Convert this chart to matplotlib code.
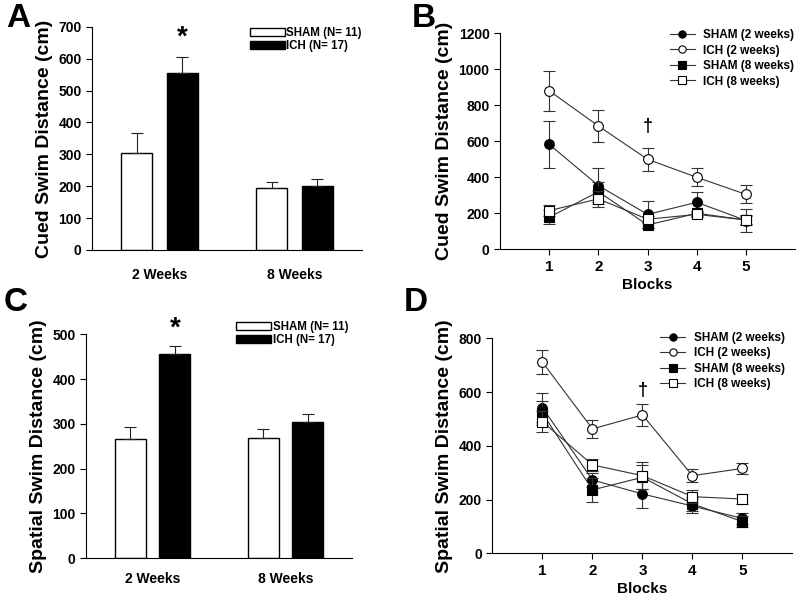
import numpy as np
import matplotlib
matplotlib.use('Agg')
from matplotlib import pyplot as plt

plt.rcParams['font.family'] = ['Liberation Sans', 'DejaVu Sans']
plt.rcParams['font.weight'] = 'bold'

# ---------------- data ----------------
groups = ['2 Weeks', '8 Weeks']
bar_legend = ['SHAM (N= 11)', 'ICH (N= 17)']

cued_sham = [305, 194]
cued_sham_err = [63, 20]
cued_ich = [555, 202]
cued_ich_err = [50, 20]

spatial_sham = [266, 268]
spatial_sham_err = [26, 20]
spatial_ich = [456, 304]
spatial_ich_err = [19, 18]

blocks = [1, 2, 3, 4, 5]
line_legend = ['SHAM (2 weeks)', 'ICH (2 weeks)', 'SHAM (8 weeks)', 'ICH (8 weeks)']

cued_sham2 = [583, 354, 194, 261, 160]
cued_sham2_err = [132, 100, 75, 57, 62]
cued_ich2 = [881, 685, 500, 400, 305]
cued_ich2_err = [110, 90, 65, 50, 50]
cued_sham8 = [178, 320, 135, 200, 163]
cued_sham8_err = [40, 55, 15, 15, 20]
cued_ich8 = [215, 280, 167, 194, 163]
cued_ich8_err = [30, 45, 20, 15, 30]

spatial_sham2 = [542, 273, 221, 176, 130]
spatial_sham2_err = [55, 25, 54, 25, 20]
spatial_ich2 = [711, 463, 515, 289, 316]
spatial_ich2_err = [45, 33, 40, 25, 20]
spatial_sham8 = [521, 236, 283, 184, 118]
spatial_sham8_err = [45, 44, 45, 25, 20]
spatial_ich8 = [490, 329, 289, 211, 202]
spatial_ich8_err = [40, 22, 50, 25, 17]

fig = plt.figure(figsize=(8, 5.95), dpi=100)


def style_axes(ax):
    ax.spines['top'].set_visible(False)
    ax.spines['right'].set_visible(False)
    ax.spines['left'].set_linewidth(0.8)
    ax.spines['bottom'].set_linewidth(0.8)
    ax.tick_params(axis='y', direction='out', length=4, width=0.8, labelsize=10)
    for lab in ax.get_yticklabels() + ax.get_xticklabels():
        lab.set_fontweight('bold')


# Bar panels (A and C)
def bar_panel(rect, sham, sham_err, ich, ich_err, ymax, ystep, ylabel, star_y, xpad, leg_anchor):
    ax = fig.add_axes(rect)
    x = np.arange(len(groups))
    off, w = 0.168, 0.232
    ax.bar(x - off, sham, w, color='white', edgecolor='black', linewidth=1,
           yerr=[np.zeros(len(sham)), sham_err], capsize=4,
           error_kw=dict(elinewidth=0.8, capthick=0.8, ecolor='#222222'), label=bar_legend[0])
    ax.bar(x + off, ich, w, color='black', edgecolor='black', linewidth=1,
           yerr=[np.zeros(len(ich)), ich_err], capsize=4,
           error_kw=dict(elinewidth=0.8, capthick=0.8, ecolor='#222222'), label=bar_legend[1])
    ax.set_xlim(-0.5, 1.5)
    ax.set_ylim(0, ymax)
    ax.set_yticks(np.arange(0, ymax + 1, ystep))
    ax.set_xticks(x)
    ax.set_xticklabels(groups, fontsize=10, fontweight='bold')
    ax.tick_params(axis='x', length=0, pad=xpad)
    ax.set_ylabel(ylabel, fontsize=14, fontweight='bold', labelpad=4)
    ax.text(x[0] + off, star_y, '*', ha='center', va='center', fontsize=20, fontweight='bold')
    style_axes(ax)
    ax.legend(loc='upper left', bbox_to_anchor=leg_anchor, frameon=False,
              handlelength=3.0, handleheight=0.7, handletextpad=0.15,
              labelspacing=0.08, borderaxespad=0, borderpad=0,
              prop=dict(family=['Liberation Sans Narrow', 'Liberation Sans'],
                        weight='bold', size=8.3))
    return ax


# Line panels (B and D)
def line_panel(rect, series, ymax, ystep, ylabel, dagger_y, leg_anchor):
    ax = fig.add_axes(rect)
    markers = ['o', 'o', 's', 's']
    faces = ['black', 'white', 'black', 'white']
    for (vals, errs), m, fc, lab in zip(series, markers, faces, line_legend):
        # error bars drawn apart so the legend shows only line + marker
        ax.errorbar(blocks, vals, yerr=errs, fmt='none', ecolor='#333333',
                    capsize=4, elinewidth=0.8, capthick=0.8)
        ax.plot(blocks, vals, color='#333333', linewidth=0.8,
                marker=m, markersize=7, markerfacecolor=fc, markeredgecolor='black',
                markeredgewidth=0.8, label=lab)
    ax.set_xlim(0, 6)
    ax.set_ylim(0, ymax)
    ax.set_yticks(np.arange(0, ymax + 1, ystep))
    ax.set_xticks(blocks)
    ax.tick_params(axis='x', direction='out', length=4, width=0.8, labelsize=11)
    ax.set_xlabel('Blocks', fontsize=11, fontweight='bold', labelpad=3)
    ax.set_ylabel(ylabel, fontsize=14, fontweight='bold', labelpad=4)
    ax.text(3, dagger_y, '\u2020', ha='center', va='center', fontsize=13)
    style_axes(ax)
    ax.legend(loc='upper left', bbox_to_anchor=leg_anchor, frameon=False,
              handlelength=2.1, handletextpad=0.7, labelspacing=0.3,
              borderaxespad=0, borderpad=0, markerscale=0.75,
              prop=dict(weight='bold', size=8.5))
    return ax


bar_panel([0.115, 0.580, 0.3375, 0.3748], cued_sham, cued_sham_err, cued_ich, cued_ich_err,
          700, 100, 'Cued Swim Distance (cm)', 665, 13, (0.585, 1.0))
bar_panel([0.1075, 0.0617, 0.3325, 0.3764], spatial_sham, spatial_sham_err, spatial_ich,
          spatial_ich_err, 500, 100, 'Spatial Swim Distance (cm)', 512, 10, (0.565, 1.06))

line_panel([0.625, 0.581, 0.369, 0.363],
           [(cued_sham2, cued_sham2_err), (cued_ich2, cued_ich2_err),
            (cued_sham8, cued_sham8_err), (cued_ich8, cued_ich8_err)],
           1200, 200, 'Cued Swim Distance (cm)', 685, (0.575, 1.02))
line_panel([0.6156, 0.070, 0.375, 0.3614],
           [(spatial_sham2, spatial_sham2_err), (spatial_ich2, spatial_ich2_err),
            (spatial_sham8, spatial_sham8_err), (spatial_ich8, spatial_ich8_err)],
           800, 200, 'Spatial Swim Distance (cm)', 605, (0.56, 1.03))

# Panel letters
for lab, (px, py) in zip('ABCD', [(0.008, 0.995), (0.515, 0.995), (0.005, 0.518), (0.505, 0.518)]):
    fig.text(px, py, lab, fontsize=24, fontweight='bold', ha='left', va='top')

fig.savefig('out.png', dpi=100)
